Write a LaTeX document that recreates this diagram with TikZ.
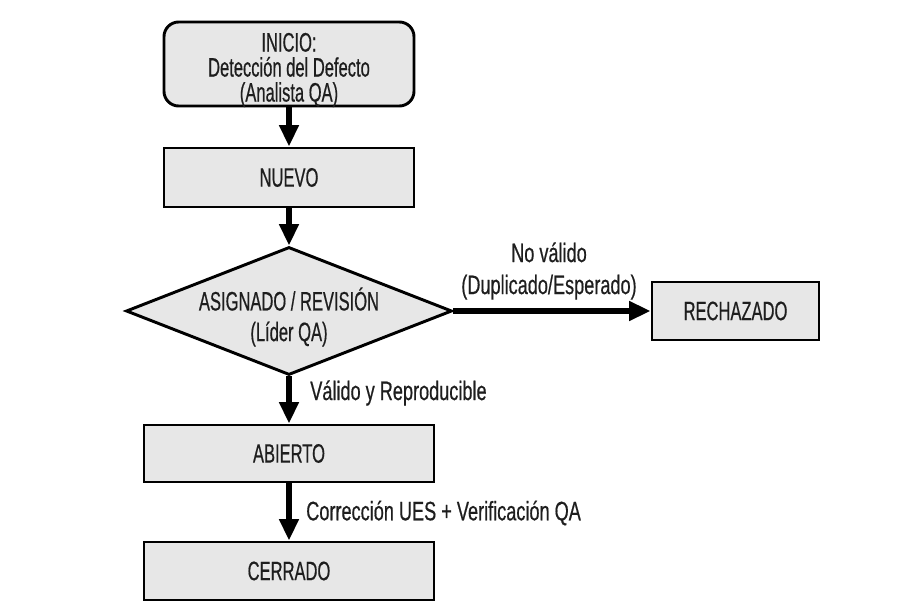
\documentclass[tikz,border=0pt]{standalone}
\usepackage{fontspec}
\setmainfont[FakeStretch=0.62,FakeBold=0.5]{Liberation Sans}
\newfontfamily\lblfont[FakeStretch=0.68,FakeBold=0.5]{Liberation Sans}
\usetikzlibrary{shapes.geometric,arrows.meta}
\definecolor{boxfill}{RGB}{231,231,231}
\definecolor{ink}{RGB}{30,30,30}
\tikzset{
  stepbox/.style={draw=black, line width=2.2pt, fill=boxfill, text=ink,
    inner sep=0pt, align=center, font=\fontsize{20}{18.75}\selectfont},
  startbox/.style={stepbox, rounded corners=11pt},
  decision/.style={draw=black, line width=2.2pt, fill=boxfill, diamond,
    inner sep=0pt},
  boxtext/.style={text=ink, inner sep=0pt, align=center},
  flow/.style={draw=black, line width=4.2pt,
    -{Triangle[length=16pt,width=14pt]}},
  lbl/.style={text=ink, inner sep=0pt, align=center,
    font=\lblfont\fontsize{20}{24}\selectfont},
}
\begin{document}
\begin{tikzpicture}[x=0.75pt,y=-0.75pt]
\useasboundingbox (0,0) rectangle (897,609);

% states
\node[startbox, minimum width=187.5pt, minimum height=63pt] (inicio) at (289,64) {};
\node[boxtext, font=\fontsize{20}{18.75}\selectfont] (iniciotxt) at (289,70)
  {INICIO:\\Detección del Defecto\\(Analista QA)};
\node[stepbox, minimum width=187.5pt, minimum height=44.25pt] (nuevo) at (289,177.5) {NUEVO};
\node[decision, minimum width=244.5pt, minimum height=96pt] (rev) at (289,311) {};
\node[boxtext, font=\fontsize{20}{23}\selectfont] (revtxt) at (289,317)
  {ASIGNADO / REVISIÓN\\(Líder QA)};
\node[stepbox, minimum width=125.25pt, minimum height=43.5pt] (rech) at (735.5,311) {RECHAZADO};
\node[stepbox, minimum width=217.5pt, minimum height=42.75pt] (abierto) at (289,453.5) {ABIERTO};
\node[stepbox, minimum width=217.5pt, minimum height=43.5pt] (cerrado) at (289,571) {CERRADO};

% transitions
\draw[flow] (inicio.south) -- (nuevo.north);
\draw[flow] (nuevo.south) -- (rev.north);
\draw[flow] (rev.east) -- (rech.west);
\draw[flow] (rev.south) -- (abierto.north);
\draw[flow] (abierto.south) -- (cerrado.north);

% transition labels
\node[lbl] (lnv) at (549,271) {No válido\\(Duplicado/Esperado)};
\node[lbl, anchor=west] (lvr) at (310,393) {Válido y Reproducible};
\node[lbl, anchor=west] (lcv) at (306,513) {Corrección UES + Verificación QA};
\end{tikzpicture}
\end{document}
